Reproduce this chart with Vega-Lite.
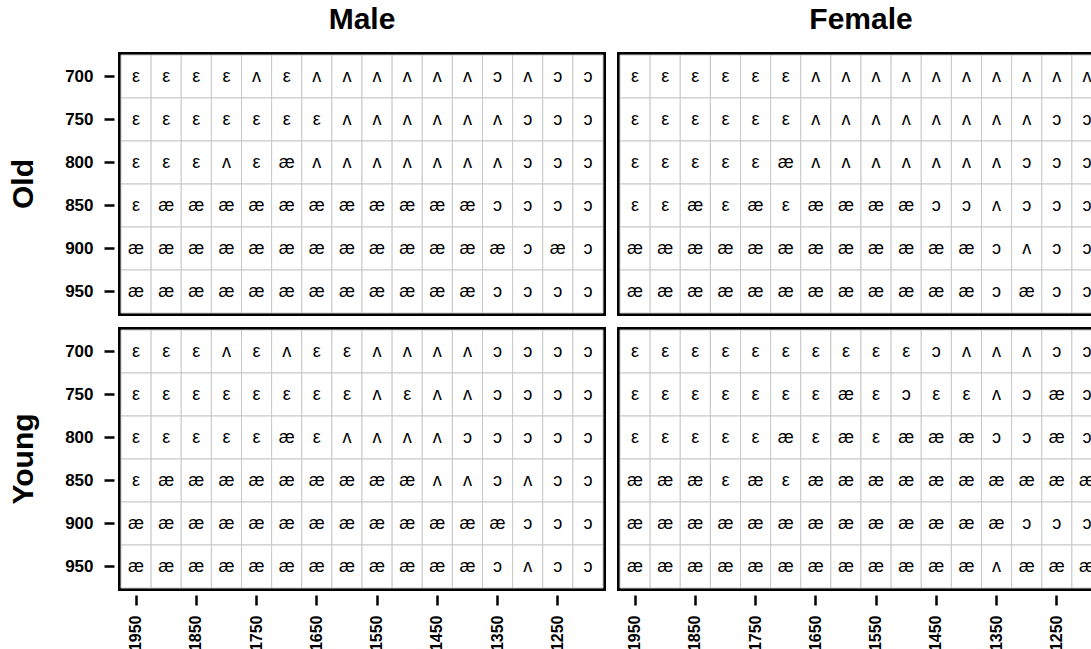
{
 "$schema": "https://vega.github.io/schema/vega-lite/v6.json",
 "padding": {"left": 8, "top": 5, "right": 0, "bottom": 0},
 "background": "white",
 "data": {"values": [
{"sex":"Male","age":"Old","F1":700,"F2":1950,"vowel":"ε"},{"sex":"Male","age":"Old","F1":700,"F2":1900,"vowel":"ε"},{"sex":"Male","age":"Old","F1":700,"F2":1850,"vowel":"ε"},{"sex":"Male","age":"Old","F1":700,"F2":1800,"vowel":"ε"},{"sex":"Male","age":"Old","F1":700,"F2":1750,"vowel":"ʌ"},{"sex":"Male","age":"Old","F1":700,"F2":1700,"vowel":"ε"},{"sex":"Male","age":"Old","F1":700,"F2":1650,"vowel":"ʌ"},{"sex":"Male","age":"Old","F1":700,"F2":1600,"vowel":"ʌ"},{"sex":"Male","age":"Old","F1":700,"F2":1550,"vowel":"ʌ"},{"sex":"Male","age":"Old","F1":700,"F2":1500,"vowel":"ʌ"},{"sex":"Male","age":"Old","F1":700,"F2":1450,"vowel":"ʌ"},{"sex":"Male","age":"Old","F1":700,"F2":1400,"vowel":"ʌ"},{"sex":"Male","age":"Old","F1":700,"F2":1350,"vowel":"ɔ"},{"sex":"Male","age":"Old","F1":700,"F2":1300,"vowel":"ʌ"},{"sex":"Male","age":"Old","F1":700,"F2":1250,"vowel":"ɔ"},{"sex":"Male","age":"Old","F1":700,"F2":1200,"vowel":"ɔ"},
{"sex":"Male","age":"Old","F1":750,"F2":1950,"vowel":"ε"},{"sex":"Male","age":"Old","F1":750,"F2":1900,"vowel":"ε"},{"sex":"Male","age":"Old","F1":750,"F2":1850,"vowel":"ε"},{"sex":"Male","age":"Old","F1":750,"F2":1800,"vowel":"ε"},{"sex":"Male","age":"Old","F1":750,"F2":1750,"vowel":"ε"},{"sex":"Male","age":"Old","F1":750,"F2":1700,"vowel":"ε"},{"sex":"Male","age":"Old","F1":750,"F2":1650,"vowel":"ε"},{"sex":"Male","age":"Old","F1":750,"F2":1600,"vowel":"ʌ"},{"sex":"Male","age":"Old","F1":750,"F2":1550,"vowel":"ʌ"},{"sex":"Male","age":"Old","F1":750,"F2":1500,"vowel":"ʌ"},{"sex":"Male","age":"Old","F1":750,"F2":1450,"vowel":"ʌ"},{"sex":"Male","age":"Old","F1":750,"F2":1400,"vowel":"ʌ"},{"sex":"Male","age":"Old","F1":750,"F2":1350,"vowel":"ʌ"},{"sex":"Male","age":"Old","F1":750,"F2":1300,"vowel":"ɔ"},{"sex":"Male","age":"Old","F1":750,"F2":1250,"vowel":"ɔ"},{"sex":"Male","age":"Old","F1":750,"F2":1200,"vowel":"ɔ"},
{"sex":"Male","age":"Old","F1":800,"F2":1950,"vowel":"ε"},{"sex":"Male","age":"Old","F1":800,"F2":1900,"vowel":"ε"},{"sex":"Male","age":"Old","F1":800,"F2":1850,"vowel":"ε"},{"sex":"Male","age":"Old","F1":800,"F2":1800,"vowel":"ʌ"},{"sex":"Male","age":"Old","F1":800,"F2":1750,"vowel":"ε"},{"sex":"Male","age":"Old","F1":800,"F2":1700,"vowel":"æ"},{"sex":"Male","age":"Old","F1":800,"F2":1650,"vowel":"ʌ"},{"sex":"Male","age":"Old","F1":800,"F2":1600,"vowel":"ʌ"},{"sex":"Male","age":"Old","F1":800,"F2":1550,"vowel":"ʌ"},{"sex":"Male","age":"Old","F1":800,"F2":1500,"vowel":"ʌ"},{"sex":"Male","age":"Old","F1":800,"F2":1450,"vowel":"ʌ"},{"sex":"Male","age":"Old","F1":800,"F2":1400,"vowel":"ʌ"},{"sex":"Male","age":"Old","F1":800,"F2":1350,"vowel":"ʌ"},{"sex":"Male","age":"Old","F1":800,"F2":1300,"vowel":"ɔ"},{"sex":"Male","age":"Old","F1":800,"F2":1250,"vowel":"ɔ"},{"sex":"Male","age":"Old","F1":800,"F2":1200,"vowel":"ɔ"},
{"sex":"Male","age":"Old","F1":850,"F2":1950,"vowel":"ε"},{"sex":"Male","age":"Old","F1":850,"F2":1900,"vowel":"æ"},{"sex":"Male","age":"Old","F1":850,"F2":1850,"vowel":"æ"},{"sex":"Male","age":"Old","F1":850,"F2":1800,"vowel":"æ"},{"sex":"Male","age":"Old","F1":850,"F2":1750,"vowel":"æ"},{"sex":"Male","age":"Old","F1":850,"F2":1700,"vowel":"æ"},{"sex":"Male","age":"Old","F1":850,"F2":1650,"vowel":"æ"},{"sex":"Male","age":"Old","F1":850,"F2":1600,"vowel":"æ"},{"sex":"Male","age":"Old","F1":850,"F2":1550,"vowel":"æ"},{"sex":"Male","age":"Old","F1":850,"F2":1500,"vowel":"æ"},{"sex":"Male","age":"Old","F1":850,"F2":1450,"vowel":"æ"},{"sex":"Male","age":"Old","F1":850,"F2":1400,"vowel":"æ"},{"sex":"Male","age":"Old","F1":850,"F2":1350,"vowel":"ɔ"},{"sex":"Male","age":"Old","F1":850,"F2":1300,"vowel":"ɔ"},{"sex":"Male","age":"Old","F1":850,"F2":1250,"vowel":"ɔ"},{"sex":"Male","age":"Old","F1":850,"F2":1200,"vowel":"ɔ"},
{"sex":"Male","age":"Old","F1":900,"F2":1950,"vowel":"æ"},{"sex":"Male","age":"Old","F1":900,"F2":1900,"vowel":"æ"},{"sex":"Male","age":"Old","F1":900,"F2":1850,"vowel":"æ"},{"sex":"Male","age":"Old","F1":900,"F2":1800,"vowel":"æ"},{"sex":"Male","age":"Old","F1":900,"F2":1750,"vowel":"æ"},{"sex":"Male","age":"Old","F1":900,"F2":1700,"vowel":"æ"},{"sex":"Male","age":"Old","F1":900,"F2":1650,"vowel":"æ"},{"sex":"Male","age":"Old","F1":900,"F2":1600,"vowel":"æ"},{"sex":"Male","age":"Old","F1":900,"F2":1550,"vowel":"æ"},{"sex":"Male","age":"Old","F1":900,"F2":1500,"vowel":"æ"},{"sex":"Male","age":"Old","F1":900,"F2":1450,"vowel":"æ"},{"sex":"Male","age":"Old","F1":900,"F2":1400,"vowel":"æ"},{"sex":"Male","age":"Old","F1":900,"F2":1350,"vowel":"æ"},{"sex":"Male","age":"Old","F1":900,"F2":1300,"vowel":"ɔ"},{"sex":"Male","age":"Old","F1":900,"F2":1250,"vowel":"æ"},{"sex":"Male","age":"Old","F1":900,"F2":1200,"vowel":"ɔ"},
{"sex":"Male","age":"Old","F1":950,"F2":1950,"vowel":"æ"},{"sex":"Male","age":"Old","F1":950,"F2":1900,"vowel":"æ"},{"sex":"Male","age":"Old","F1":950,"F2":1850,"vowel":"æ"},{"sex":"Male","age":"Old","F1":950,"F2":1800,"vowel":"æ"},{"sex":"Male","age":"Old","F1":950,"F2":1750,"vowel":"æ"},{"sex":"Male","age":"Old","F1":950,"F2":1700,"vowel":"æ"},{"sex":"Male","age":"Old","F1":950,"F2":1650,"vowel":"æ"},{"sex":"Male","age":"Old","F1":950,"F2":1600,"vowel":"æ"},{"sex":"Male","age":"Old","F1":950,"F2":1550,"vowel":"æ"},{"sex":"Male","age":"Old","F1":950,"F2":1500,"vowel":"æ"},{"sex":"Male","age":"Old","F1":950,"F2":1450,"vowel":"æ"},{"sex":"Male","age":"Old","F1":950,"F2":1400,"vowel":"æ"},{"sex":"Male","age":"Old","F1":950,"F2":1350,"vowel":"ɔ"},{"sex":"Male","age":"Old","F1":950,"F2":1300,"vowel":"ɔ"},{"sex":"Male","age":"Old","F1":950,"F2":1250,"vowel":"ɔ"},{"sex":"Male","age":"Old","F1":950,"F2":1200,"vowel":"ɔ"},

{"sex":"Female","age":"Old","F1":700,"F2":1950,"vowel":"ε"},{"sex":"Female","age":"Old","F1":700,"F2":1900,"vowel":"ε"},{"sex":"Female","age":"Old","F1":700,"F2":1850,"vowel":"ε"},{"sex":"Female","age":"Old","F1":700,"F2":1800,"vowel":"ε"},{"sex":"Female","age":"Old","F1":700,"F2":1750,"vowel":"ε"},{"sex":"Female","age":"Old","F1":700,"F2":1700,"vowel":"ε"},{"sex":"Female","age":"Old","F1":700,"F2":1650,"vowel":"ʌ"},{"sex":"Female","age":"Old","F1":700,"F2":1600,"vowel":"ʌ"},{"sex":"Female","age":"Old","F1":700,"F2":1550,"vowel":"ʌ"},{"sex":"Female","age":"Old","F1":700,"F2":1500,"vowel":"ʌ"},{"sex":"Female","age":"Old","F1":700,"F2":1450,"vowel":"ʌ"},{"sex":"Female","age":"Old","F1":700,"F2":1400,"vowel":"ʌ"},{"sex":"Female","age":"Old","F1":700,"F2":1350,"vowel":"ʌ"},{"sex":"Female","age":"Old","F1":700,"F2":1300,"vowel":"ʌ"},{"sex":"Female","age":"Old","F1":700,"F2":1250,"vowel":"ʌ"},{"sex":"Female","age":"Old","F1":700,"F2":1200,"vowel":"ʌ"},
{"sex":"Female","age":"Old","F1":750,"F2":1950,"vowel":"ε"},{"sex":"Female","age":"Old","F1":750,"F2":1900,"vowel":"ε"},{"sex":"Female","age":"Old","F1":750,"F2":1850,"vowel":"ε"},{"sex":"Female","age":"Old","F1":750,"F2":1800,"vowel":"ε"},{"sex":"Female","age":"Old","F1":750,"F2":1750,"vowel":"ε"},{"sex":"Female","age":"Old","F1":750,"F2":1700,"vowel":"ε"},{"sex":"Female","age":"Old","F1":750,"F2":1650,"vowel":"ʌ"},{"sex":"Female","age":"Old","F1":750,"F2":1600,"vowel":"ʌ"},{"sex":"Female","age":"Old","F1":750,"F2":1550,"vowel":"ʌ"},{"sex":"Female","age":"Old","F1":750,"F2":1500,"vowel":"ʌ"},{"sex":"Female","age":"Old","F1":750,"F2":1450,"vowel":"ʌ"},{"sex":"Female","age":"Old","F1":750,"F2":1400,"vowel":"ʌ"},{"sex":"Female","age":"Old","F1":750,"F2":1350,"vowel":"ʌ"},{"sex":"Female","age":"Old","F1":750,"F2":1300,"vowel":"ʌ"},{"sex":"Female","age":"Old","F1":750,"F2":1250,"vowel":"ɔ"},{"sex":"Female","age":"Old","F1":750,"F2":1200,"vowel":"ɔ"},
{"sex":"Female","age":"Old","F1":800,"F2":1950,"vowel":"ε"},{"sex":"Female","age":"Old","F1":800,"F2":1900,"vowel":"ε"},{"sex":"Female","age":"Old","F1":800,"F2":1850,"vowel":"ε"},{"sex":"Female","age":"Old","F1":800,"F2":1800,"vowel":"ε"},{"sex":"Female","age":"Old","F1":800,"F2":1750,"vowel":"ε"},{"sex":"Female","age":"Old","F1":800,"F2":1700,"vowel":"æ"},{"sex":"Female","age":"Old","F1":800,"F2":1650,"vowel":"ʌ"},{"sex":"Female","age":"Old","F1":800,"F2":1600,"vowel":"ʌ"},{"sex":"Female","age":"Old","F1":800,"F2":1550,"vowel":"ʌ"},{"sex":"Female","age":"Old","F1":800,"F2":1500,"vowel":"ʌ"},{"sex":"Female","age":"Old","F1":800,"F2":1450,"vowel":"ʌ"},{"sex":"Female","age":"Old","F1":800,"F2":1400,"vowel":"ʌ"},{"sex":"Female","age":"Old","F1":800,"F2":1350,"vowel":"ʌ"},{"sex":"Female","age":"Old","F1":800,"F2":1300,"vowel":"ɔ"},{"sex":"Female","age":"Old","F1":800,"F2":1250,"vowel":"ɔ"},{"sex":"Female","age":"Old","F1":800,"F2":1200,"vowel":"ɔ"},
{"sex":"Female","age":"Old","F1":850,"F2":1950,"vowel":"ε"},{"sex":"Female","age":"Old","F1":850,"F2":1900,"vowel":"ε"},{"sex":"Female","age":"Old","F1":850,"F2":1850,"vowel":"æ"},{"sex":"Female","age":"Old","F1":850,"F2":1800,"vowel":"ε"},{"sex":"Female","age":"Old","F1":850,"F2":1750,"vowel":"æ"},{"sex":"Female","age":"Old","F1":850,"F2":1700,"vowel":"ε"},{"sex":"Female","age":"Old","F1":850,"F2":1650,"vowel":"æ"},{"sex":"Female","age":"Old","F1":850,"F2":1600,"vowel":"æ"},{"sex":"Female","age":"Old","F1":850,"F2":1550,"vowel":"æ"},{"sex":"Female","age":"Old","F1":850,"F2":1500,"vowel":"æ"},{"sex":"Female","age":"Old","F1":850,"F2":1450,"vowel":"ɔ"},{"sex":"Female","age":"Old","F1":850,"F2":1400,"vowel":"ɔ"},{"sex":"Female","age":"Old","F1":850,"F2":1350,"vowel":"ʌ"},{"sex":"Female","age":"Old","F1":850,"F2":1300,"vowel":"ɔ"},{"sex":"Female","age":"Old","F1":850,"F2":1250,"vowel":"ɔ"},{"sex":"Female","age":"Old","F1":850,"F2":1200,"vowel":"ɔ"},
{"sex":"Female","age":"Old","F1":900,"F2":1950,"vowel":"æ"},{"sex":"Female","age":"Old","F1":900,"F2":1900,"vowel":"æ"},{"sex":"Female","age":"Old","F1":900,"F2":1850,"vowel":"æ"},{"sex":"Female","age":"Old","F1":900,"F2":1800,"vowel":"æ"},{"sex":"Female","age":"Old","F1":900,"F2":1750,"vowel":"æ"},{"sex":"Female","age":"Old","F1":900,"F2":1700,"vowel":"æ"},{"sex":"Female","age":"Old","F1":900,"F2":1650,"vowel":"æ"},{"sex":"Female","age":"Old","F1":900,"F2":1600,"vowel":"æ"},{"sex":"Female","age":"Old","F1":900,"F2":1550,"vowel":"æ"},{"sex":"Female","age":"Old","F1":900,"F2":1500,"vowel":"æ"},{"sex":"Female","age":"Old","F1":900,"F2":1450,"vowel":"æ"},{"sex":"Female","age":"Old","F1":900,"F2":1400,"vowel":"æ"},{"sex":"Female","age":"Old","F1":900,"F2":1350,"vowel":"ɔ"},{"sex":"Female","age":"Old","F1":900,"F2":1300,"vowel":"ʌ"},{"sex":"Female","age":"Old","F1":900,"F2":1250,"vowel":"ɔ"},{"sex":"Female","age":"Old","F1":900,"F2":1200,"vowel":"ɔ"},
{"sex":"Female","age":"Old","F1":950,"F2":1950,"vowel":"æ"},{"sex":"Female","age":"Old","F1":950,"F2":1900,"vowel":"æ"},{"sex":"Female","age":"Old","F1":950,"F2":1850,"vowel":"æ"},{"sex":"Female","age":"Old","F1":950,"F2":1800,"vowel":"æ"},{"sex":"Female","age":"Old","F1":950,"F2":1750,"vowel":"æ"},{"sex":"Female","age":"Old","F1":950,"F2":1700,"vowel":"æ"},{"sex":"Female","age":"Old","F1":950,"F2":1650,"vowel":"æ"},{"sex":"Female","age":"Old","F1":950,"F2":1600,"vowel":"æ"},{"sex":"Female","age":"Old","F1":950,"F2":1550,"vowel":"æ"},{"sex":"Female","age":"Old","F1":950,"F2":1500,"vowel":"æ"},{"sex":"Female","age":"Old","F1":950,"F2":1450,"vowel":"æ"},{"sex":"Female","age":"Old","F1":950,"F2":1400,"vowel":"æ"},{"sex":"Female","age":"Old","F1":950,"F2":1350,"vowel":"ɔ"},{"sex":"Female","age":"Old","F1":950,"F2":1300,"vowel":"æ"},{"sex":"Female","age":"Old","F1":950,"F2":1250,"vowel":"ɔ"},{"sex":"Female","age":"Old","F1":950,"F2":1200,"vowel":"ɔ"},

{"sex":"Male","age":"Young","F1":700,"F2":1950,"vowel":"ε"},{"sex":"Male","age":"Young","F1":700,"F2":1900,"vowel":"ε"},{"sex":"Male","age":"Young","F1":700,"F2":1850,"vowel":"ε"},{"sex":"Male","age":"Young","F1":700,"F2":1800,"vowel":"ʌ"},{"sex":"Male","age":"Young","F1":700,"F2":1750,"vowel":"ε"},{"sex":"Male","age":"Young","F1":700,"F2":1700,"vowel":"ʌ"},{"sex":"Male","age":"Young","F1":700,"F2":1650,"vowel":"ε"},{"sex":"Male","age":"Young","F1":700,"F2":1600,"vowel":"ε"},{"sex":"Male","age":"Young","F1":700,"F2":1550,"vowel":"ʌ"},{"sex":"Male","age":"Young","F1":700,"F2":1500,"vowel":"ʌ"},{"sex":"Male","age":"Young","F1":700,"F2":1450,"vowel":"ʌ"},{"sex":"Male","age":"Young","F1":700,"F2":1400,"vowel":"ʌ"},{"sex":"Male","age":"Young","F1":700,"F2":1350,"vowel":"ɔ"},{"sex":"Male","age":"Young","F1":700,"F2":1300,"vowel":"ɔ"},{"sex":"Male","age":"Young","F1":700,"F2":1250,"vowel":"ɔ"},{"sex":"Male","age":"Young","F1":700,"F2":1200,"vowel":"ɔ"},
{"sex":"Male","age":"Young","F1":750,"F2":1950,"vowel":"ε"},{"sex":"Male","age":"Young","F1":750,"F2":1900,"vowel":"ε"},{"sex":"Male","age":"Young","F1":750,"F2":1850,"vowel":"ε"},{"sex":"Male","age":"Young","F1":750,"F2":1800,"vowel":"ε"},{"sex":"Male","age":"Young","F1":750,"F2":1750,"vowel":"ε"},{"sex":"Male","age":"Young","F1":750,"F2":1700,"vowel":"ε"},{"sex":"Male","age":"Young","F1":750,"F2":1650,"vowel":"ε"},{"sex":"Male","age":"Young","F1":750,"F2":1600,"vowel":"ε"},{"sex":"Male","age":"Young","F1":750,"F2":1550,"vowel":"ʌ"},{"sex":"Male","age":"Young","F1":750,"F2":1500,"vowel":"ε"},{"sex":"Male","age":"Young","F1":750,"F2":1450,"vowel":"ʌ"},{"sex":"Male","age":"Young","F1":750,"F2":1400,"vowel":"ʌ"},{"sex":"Male","age":"Young","F1":750,"F2":1350,"vowel":"ɔ"},{"sex":"Male","age":"Young","F1":750,"F2":1300,"vowel":"ɔ"},{"sex":"Male","age":"Young","F1":750,"F2":1250,"vowel":"ɔ"},{"sex":"Male","age":"Young","F1":750,"F2":1200,"vowel":"ɔ"},
{"sex":"Male","age":"Young","F1":800,"F2":1950,"vowel":"ε"},{"sex":"Male","age":"Young","F1":800,"F2":1900,"vowel":"ε"},{"sex":"Male","age":"Young","F1":800,"F2":1850,"vowel":"ε"},{"sex":"Male","age":"Young","F1":800,"F2":1800,"vowel":"ε"},{"sex":"Male","age":"Young","F1":800,"F2":1750,"vowel":"ε"},{"sex":"Male","age":"Young","F1":800,"F2":1700,"vowel":"æ"},{"sex":"Male","age":"Young","F1":800,"F2":1650,"vowel":"ε"},{"sex":"Male","age":"Young","F1":800,"F2":1600,"vowel":"ʌ"},{"sex":"Male","age":"Young","F1":800,"F2":1550,"vowel":"ʌ"},{"sex":"Male","age":"Young","F1":800,"F2":1500,"vowel":"ʌ"},{"sex":"Male","age":"Young","F1":800,"F2":1450,"vowel":"ʌ"},{"sex":"Male","age":"Young","F1":800,"F2":1400,"vowel":"ɔ"},{"sex":"Male","age":"Young","F1":800,"F2":1350,"vowel":"ɔ"},{"sex":"Male","age":"Young","F1":800,"F2":1300,"vowel":"ɔ"},{"sex":"Male","age":"Young","F1":800,"F2":1250,"vowel":"ɔ"},{"sex":"Male","age":"Young","F1":800,"F2":1200,"vowel":"ɔ"},
{"sex":"Male","age":"Young","F1":850,"F2":1950,"vowel":"ε"},{"sex":"Male","age":"Young","F1":850,"F2":1900,"vowel":"æ"},{"sex":"Male","age":"Young","F1":850,"F2":1850,"vowel":"æ"},{"sex":"Male","age":"Young","F1":850,"F2":1800,"vowel":"æ"},{"sex":"Male","age":"Young","F1":850,"F2":1750,"vowel":"æ"},{"sex":"Male","age":"Young","F1":850,"F2":1700,"vowel":"æ"},{"sex":"Male","age":"Young","F1":850,"F2":1650,"vowel":"æ"},{"sex":"Male","age":"Young","F1":850,"F2":1600,"vowel":"æ"},{"sex":"Male","age":"Young","F1":850,"F2":1550,"vowel":"æ"},{"sex":"Male","age":"Young","F1":850,"F2":1500,"vowel":"æ"},{"sex":"Male","age":"Young","F1":850,"F2":1450,"vowel":"ʌ"},{"sex":"Male","age":"Young","F1":850,"F2":1400,"vowel":"ʌ"},{"sex":"Male","age":"Young","F1":850,"F2":1350,"vowel":"ɔ"},{"sex":"Male","age":"Young","F1":850,"F2":1300,"vowel":"ʌ"},{"sex":"Male","age":"Young","F1":850,"F2":1250,"vowel":"ɔ"},{"sex":"Male","age":"Young","F1":850,"F2":1200,"vowel":"ɔ"},
{"sex":"Male","age":"Young","F1":900,"F2":1950,"vowel":"æ"},{"sex":"Male","age":"Young","F1":900,"F2":1900,"vowel":"æ"},{"sex":"Male","age":"Young","F1":900,"F2":1850,"vowel":"æ"},{"sex":"Male","age":"Young","F1":900,"F2":1800,"vowel":"æ"},{"sex":"Male","age":"Young","F1":900,"F2":1750,"vowel":"æ"},{"sex":"Male","age":"Young","F1":900,"F2":1700,"vowel":"æ"},{"sex":"Male","age":"Young","F1":900,"F2":1650,"vowel":"æ"},{"sex":"Male","age":"Young","F1":900,"F2":1600,"vowel":"æ"},{"sex":"Male","age":"Young","F1":900,"F2":1550,"vowel":"æ"},{"sex":"Male","age":"Young","F1":900,"F2":1500,"vowel":"æ"},{"sex":"Male","age":"Young","F1":900,"F2":1450,"vowel":"æ"},{"sex":"Male","age":"Young","F1":900,"F2":1400,"vowel":"æ"},{"sex":"Male","age":"Young","F1":900,"F2":1350,"vowel":"æ"},{"sex":"Male","age":"Young","F1":900,"F2":1300,"vowel":"ɔ"},{"sex":"Male","age":"Young","F1":900,"F2":1250,"vowel":"ɔ"},{"sex":"Male","age":"Young","F1":900,"F2":1200,"vowel":"ɔ"},
{"sex":"Male","age":"Young","F1":950,"F2":1950,"vowel":"æ"},{"sex":"Male","age":"Young","F1":950,"F2":1900,"vowel":"æ"},{"sex":"Male","age":"Young","F1":950,"F2":1850,"vowel":"æ"},{"sex":"Male","age":"Young","F1":950,"F2":1800,"vowel":"æ"},{"sex":"Male","age":"Young","F1":950,"F2":1750,"vowel":"æ"},{"sex":"Male","age":"Young","F1":950,"F2":1700,"vowel":"æ"},{"sex":"Male","age":"Young","F1":950,"F2":1650,"vowel":"æ"},{"sex":"Male","age":"Young","F1":950,"F2":1600,"vowel":"æ"},{"sex":"Male","age":"Young","F1":950,"F2":1550,"vowel":"æ"},{"sex":"Male","age":"Young","F1":950,"F2":1500,"vowel":"æ"},{"sex":"Male","age":"Young","F1":950,"F2":1450,"vowel":"æ"},{"sex":"Male","age":"Young","F1":950,"F2":1400,"vowel":"æ"},{"sex":"Male","age":"Young","F1":950,"F2":1350,"vowel":"ɔ"},{"sex":"Male","age":"Young","F1":950,"F2":1300,"vowel":"ʌ"},{"sex":"Male","age":"Young","F1":950,"F2":1250,"vowel":"ɔ"},{"sex":"Male","age":"Young","F1":950,"F2":1200,"vowel":"ɔ"},

{"sex":"Female","age":"Young","F1":700,"F2":1950,"vowel":"ε"},{"sex":"Female","age":"Young","F1":700,"F2":1900,"vowel":"ε"},{"sex":"Female","age":"Young","F1":700,"F2":1850,"vowel":"ε"},{"sex":"Female","age":"Young","F1":700,"F2":1800,"vowel":"ε"},{"sex":"Female","age":"Young","F1":700,"F2":1750,"vowel":"ε"},{"sex":"Female","age":"Young","F1":700,"F2":1700,"vowel":"ε"},{"sex":"Female","age":"Young","F1":700,"F2":1650,"vowel":"ε"},{"sex":"Female","age":"Young","F1":700,"F2":1600,"vowel":"ε"},{"sex":"Female","age":"Young","F1":700,"F2":1550,"vowel":"ε"},{"sex":"Female","age":"Young","F1":700,"F2":1500,"vowel":"ε"},{"sex":"Female","age":"Young","F1":700,"F2":1450,"vowel":"ɔ"},{"sex":"Female","age":"Young","F1":700,"F2":1400,"vowel":"ʌ"},{"sex":"Female","age":"Young","F1":700,"F2":1350,"vowel":"ʌ"},{"sex":"Female","age":"Young","F1":700,"F2":1300,"vowel":"ʌ"},{"sex":"Female","age":"Young","F1":700,"F2":1250,"vowel":"ɔ"},{"sex":"Female","age":"Young","F1":700,"F2":1200,"vowel":"ɔ"},
{"sex":"Female","age":"Young","F1":750,"F2":1950,"vowel":"ε"},{"sex":"Female","age":"Young","F1":750,"F2":1900,"vowel":"ε"},{"sex":"Female","age":"Young","F1":750,"F2":1850,"vowel":"ε"},{"sex":"Female","age":"Young","F1":750,"F2":1800,"vowel":"ε"},{"sex":"Female","age":"Young","F1":750,"F2":1750,"vowel":"ε"},{"sex":"Female","age":"Young","F1":750,"F2":1700,"vowel":"ε"},{"sex":"Female","age":"Young","F1":750,"F2":1650,"vowel":"ε"},{"sex":"Female","age":"Young","F1":750,"F2":1600,"vowel":"æ"},{"sex":"Female","age":"Young","F1":750,"F2":1550,"vowel":"ε"},{"sex":"Female","age":"Young","F1":750,"F2":1500,"vowel":"ɔ"},{"sex":"Female","age":"Young","F1":750,"F2":1450,"vowel":"ε"},{"sex":"Female","age":"Young","F1":750,"F2":1400,"vowel":"ε"},{"sex":"Female","age":"Young","F1":750,"F2":1350,"vowel":"ʌ"},{"sex":"Female","age":"Young","F1":750,"F2":1300,"vowel":"ɔ"},{"sex":"Female","age":"Young","F1":750,"F2":1250,"vowel":"æ"},{"sex":"Female","age":"Young","F1":750,"F2":1200,"vowel":"ɔ"},
{"sex":"Female","age":"Young","F1":800,"F2":1950,"vowel":"ε"},{"sex":"Female","age":"Young","F1":800,"F2":1900,"vowel":"ε"},{"sex":"Female","age":"Young","F1":800,"F2":1850,"vowel":"ε"},{"sex":"Female","age":"Young","F1":800,"F2":1800,"vowel":"ε"},{"sex":"Female","age":"Young","F1":800,"F2":1750,"vowel":"ε"},{"sex":"Female","age":"Young","F1":800,"F2":1700,"vowel":"æ"},{"sex":"Female","age":"Young","F1":800,"F2":1650,"vowel":"ε"},{"sex":"Female","age":"Young","F1":800,"F2":1600,"vowel":"æ"},{"sex":"Female","age":"Young","F1":800,"F2":1550,"vowel":"ε"},{"sex":"Female","age":"Young","F1":800,"F2":1500,"vowel":"æ"},{"sex":"Female","age":"Young","F1":800,"F2":1450,"vowel":"æ"},{"sex":"Female","age":"Young","F1":800,"F2":1400,"vowel":"æ"},{"sex":"Female","age":"Young","F1":800,"F2":1350,"vowel":"ɔ"},{"sex":"Female","age":"Young","F1":800,"F2":1300,"vowel":"ɔ"},{"sex":"Female","age":"Young","F1":800,"F2":1250,"vowel":"æ"},{"sex":"Female","age":"Young","F1":800,"F2":1200,"vowel":"ɔ"},
{"sex":"Female","age":"Young","F1":850,"F2":1950,"vowel":"æ"},{"sex":"Female","age":"Young","F1":850,"F2":1900,"vowel":"æ"},{"sex":"Female","age":"Young","F1":850,"F2":1850,"vowel":"æ"},{"sex":"Female","age":"Young","F1":850,"F2":1800,"vowel":"ε"},{"sex":"Female","age":"Young","F1":850,"F2":1750,"vowel":"æ"},{"sex":"Female","age":"Young","F1":850,"F2":1700,"vowel":"ε"},{"sex":"Female","age":"Young","F1":850,"F2":1650,"vowel":"æ"},{"sex":"Female","age":"Young","F1":850,"F2":1600,"vowel":"æ"},{"sex":"Female","age":"Young","F1":850,"F2":1550,"vowel":"æ"},{"sex":"Female","age":"Young","F1":850,"F2":1500,"vowel":"æ"},{"sex":"Female","age":"Young","F1":850,"F2":1450,"vowel":"æ"},{"sex":"Female","age":"Young","F1":850,"F2":1400,"vowel":"æ"},{"sex":"Female","age":"Young","F1":850,"F2":1350,"vowel":"æ"},{"sex":"Female","age":"Young","F1":850,"F2":1300,"vowel":"æ"},{"sex":"Female","age":"Young","F1":850,"F2":1250,"vowel":"æ"},{"sex":"Female","age":"Young","F1":850,"F2":1200,"vowel":"æ"},
{"sex":"Female","age":"Young","F1":900,"F2":1950,"vowel":"æ"},{"sex":"Female","age":"Young","F1":900,"F2":1900,"vowel":"æ"},{"sex":"Female","age":"Young","F1":900,"F2":1850,"vowel":"æ"},{"sex":"Female","age":"Young","F1":900,"F2":1800,"vowel":"æ"},{"sex":"Female","age":"Young","F1":900,"F2":1750,"vowel":"æ"},{"sex":"Female","age":"Young","F1":900,"F2":1700,"vowel":"æ"},{"sex":"Female","age":"Young","F1":900,"F2":1650,"vowel":"æ"},{"sex":"Female","age":"Young","F1":900,"F2":1600,"vowel":"æ"},{"sex":"Female","age":"Young","F1":900,"F2":1550,"vowel":"æ"},{"sex":"Female","age":"Young","F1":900,"F2":1500,"vowel":"æ"},{"sex":"Female","age":"Young","F1":900,"F2":1450,"vowel":"æ"},{"sex":"Female","age":"Young","F1":900,"F2":1400,"vowel":"æ"},{"sex":"Female","age":"Young","F1":900,"F2":1350,"vowel":"æ"},{"sex":"Female","age":"Young","F1":900,"F2":1300,"vowel":"ɔ"},{"sex":"Female","age":"Young","F1":900,"F2":1250,"vowel":"ɔ"},{"sex":"Female","age":"Young","F1":900,"F2":1200,"vowel":"ɔ"},
{"sex":"Female","age":"Young","F1":950,"F2":1950,"vowel":"æ"},{"sex":"Female","age":"Young","F1":950,"F2":1900,"vowel":"æ"},{"sex":"Female","age":"Young","F1":950,"F2":1850,"vowel":"æ"},{"sex":"Female","age":"Young","F1":950,"F2":1800,"vowel":"æ"},{"sex":"Female","age":"Young","F1":950,"F2":1750,"vowel":"æ"},{"sex":"Female","age":"Young","F1":950,"F2":1700,"vowel":"æ"},{"sex":"Female","age":"Young","F1":950,"F2":1650,"vowel":"æ"},{"sex":"Female","age":"Young","F1":950,"F2":1600,"vowel":"æ"},{"sex":"Female","age":"Young","F1":950,"F2":1550,"vowel":"æ"},{"sex":"Female","age":"Young","F1":950,"F2":1500,"vowel":"æ"},{"sex":"Female","age":"Young","F1":950,"F2":1450,"vowel":"æ"},{"sex":"Female","age":"Young","F1":950,"F2":1400,"vowel":"æ"},{"sex":"Female","age":"Young","F1":950,"F2":1350,"vowel":"ʌ"},{"sex":"Female","age":"Young","F1":950,"F2":1300,"vowel":"æ"},{"sex":"Female","age":"Young","F1":950,"F2":1250,"vowel":"æ"},{"sex":"Female","age":"Young","F1":950,"F2":1200,"vowel":"æ"}
 ]},
 "facet": {
  "row": {"field": "age", "type": "nominal", "sort": ["Old", "Young"],
   "header": {"title": null, "labelFont": "Liberation Sans", "labelFontSize": 30, "labelFontWeight": "bold", "labelColor": "black", "labelPadding": 26}},
  "column": {"field": "sex", "type": "nominal", "sort": ["Male", "Female"],
   "header": {"title": null, "labelFont": "Liberation Sans", "labelFontSize": 30, "labelFontWeight": "bold", "labelColor": "black", "labelPadding": 16}}
 },
 "spacing": {"row": 9, "column": 9},
 "spec": {
  "width": 482,
  "height": 258,
  "encoding": {
   "x": {"field": "F2", "type": "ordinal", "sort": "descending",
    "scale": {"paddingInner": 0, "paddingOuter": 0},
    "axis": {"title": null, "values": [1950, 1850, 1750, 1650, 1550, 1450, 1350, 1250], "labelAngle": -90, "labelPadding": 10, "offset": 3, "labelFontSize": 16}},
   "y": {"field": "F1", "type": "ordinal", "sort": "ascending",
    "scale": {"paddingInner": 0, "paddingOuter": 0},
    "axis": {"title": null, "labelPadding": 11, "offset": 3}}
  },
  "layer": [
   {"mark": {"type": "rect", "fill": "white", "stroke": "#c8c8c8", "strokeWidth": 1}},
   {"mark": {"type": "text", "font": "Liberation Sans", "fontSize": 18, "color": "black"},
    "encoding": {"text": {"field": "vowel", "type": "nominal"}}}
  ]
 },
 "config": {
  "view": {"stroke": "black", "strokeWidth": 6, "fill": "white"},
  "axis": {"domain": false, "grid": false, "ticks": true, "tickColor": "black", "tickWidth": 2.5, "tickSize": 10,
   "labelFont": "Liberation Sans", "labelFontSize": 17, "labelFontWeight": "bold", "labelColor": "black"}
 }
}
